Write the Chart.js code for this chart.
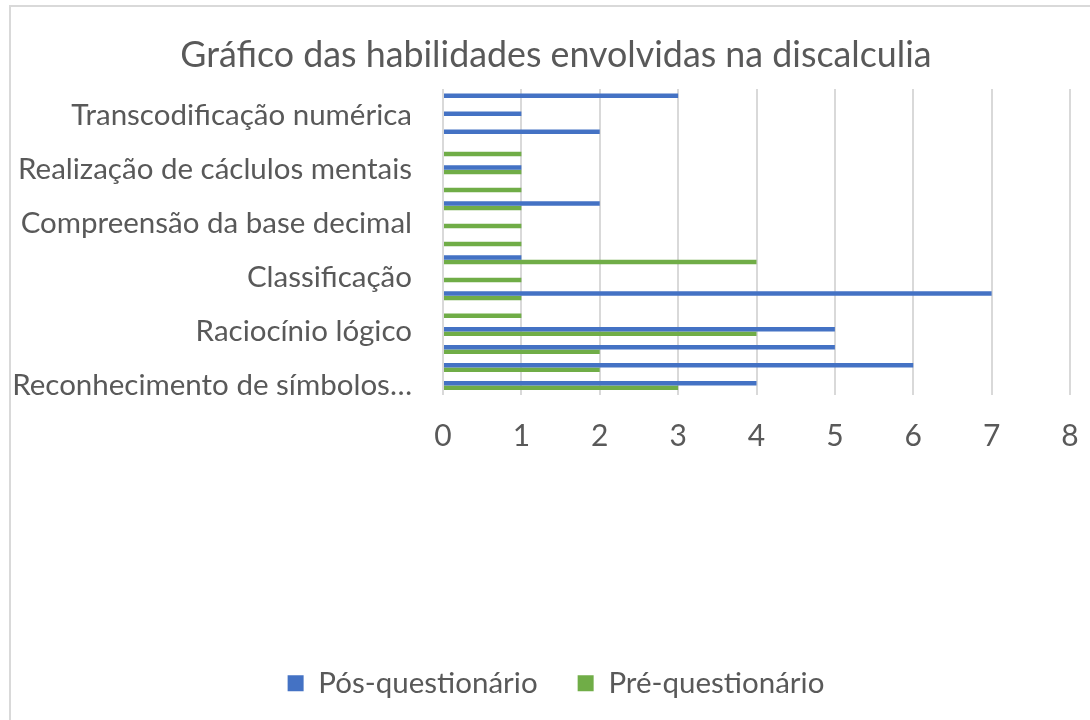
<!DOCTYPE html>
<html>
<head>
<meta charset="utf-8">
<script src="https://cdn.jsdelivr.net/npm/chart.js@4"></script>
<style>
  body { margin: 0; background: #fff; }
  #wrap { position: relative; width: 1090px; height: 720px; overflow: hidden; }
  #frame { position: absolute; left: 9px; top: 5px; width: 1100px; height: 730px; border: 2px solid #d9d9d9; box-sizing: border-box; }
  canvas { position: absolute; left: 0; top: 0; }
</style>
</head>
<body>
<div id="wrap">
  <div id="frame"></div>
  <canvas id="chart" width="1090" height="720"></canvas>
</div>
<script>
// categories top to bottom; Excel only printed every third name
const categories = [
  '', 'Transcodificação numérica', '',
  '', 'Realização de cáclulos mentais', '',
  '', 'Compreensão da base decimal', '',
  '', 'Classificação', '',
  '', 'Raciocínio lógico', '',
  '', 'Reconhecimento de símbolos…'
];
const posQuestionario = [3, 1, 2, null, 1, null, 2, null, null, 1, null, 7, null, 5, 5, 6, 4];
const preQuestionario = [null, null, null, 1, 1, 1, 1, 1, 1, 4, 1, 1, 1, 4, 2, 2, 3];
const xTicks = [0, 1, 2, 3, 4, 5, 6, 7, 8];

const textColor = '#595959';
const font = 'Lato, "Open Sans", sans-serif';
const padLeft = 42;

// the left padding only recentres title/legend; let the y labels use that strip too
const widenYAxis = {
  id: 'widenYAxis',
  afterLayout(chart) {
    const y = chart.scales.y;
    y.left = 0;
    y.width = y.right;
  }
};

new Chart(document.getElementById('chart'), {
  type: 'bar',
  data: {
    labels: categories,
    datasets: [
      { label: 'Pós-questionário', data: posQuestionario, backgroundColor: '#4472C4' },
      { label: 'Pré-questionário', data: preQuestionario, backgroundColor: '#70AD47' }
    ]
  },
  plugins: [widenYAxis],
  options: {
    indexAxis: 'y',
    responsive: false,
    animation: false,
    datasets: { bar: { categoryPercentage: 0.5, barPercentage: 1 } },
    layout: { padding: { left: padLeft, right: 20, top: 0, bottom: 12 } },
    plugins: {
      title: {
        display: true,
        text: 'Gráfico das habilidades envolvidas na discalculia',
        color: textColor,
        font: { family: font, size: 35.8, weight: 'normal' },
        padding: { top: 34, bottom: 12 }
      },
      legend: {
        position: 'bottom',
        labels: {
          color: textColor,
          font: { family: font, size: 29.5 },
          boxWidth: 16,
          boxHeight: 16,
          padding: 40
        }
      },
      tooltip: { enabled: false }
    },
    scales: {
      x: {
        min: xTicks[0],
        max: xTicks[xTicks.length - 1],
        afterBuildTicks: s => { s.ticks = xTicks.map(v => ({ value: v })); },
        afterFit: s => { s.height = 234; },
        grid: { color: '#d9d9d9', lineWidth: 2, drawTicks: true, tickLength: 24, tickColor: 'rgba(0,0,0,0)' },
        border: { display: false },
        ticks: { color: textColor, font: { family: font, size: 30 }, padding: 0 }
      },
      y: {
        afterFit: s => { s.width = 443 - padLeft; },
        grid: { display: false },
        border: { display: false },
        ticks: {
          autoSkip: false,
          color: textColor,
          font: { family: font, size: 29.5 },
          padding: 23
        }
      }
    }
  }
});
</script>
</body>
</html>
